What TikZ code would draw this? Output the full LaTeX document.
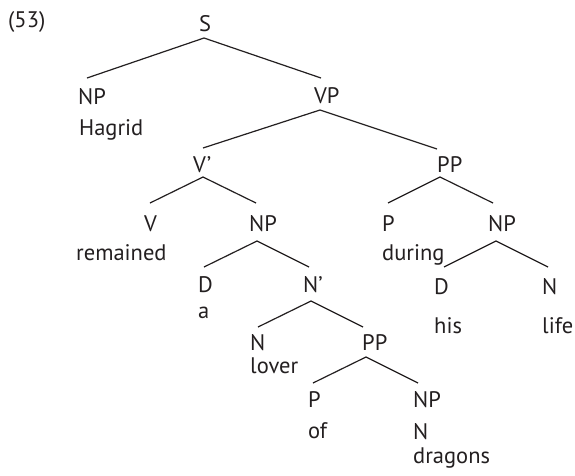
\documentclass[tikz,border=0pt]{standalone}
\usepackage{fontspec}
\setmainfont{PT Sans}
\definecolor{ink}{HTML}{231F20}
\begin{document}
\begin{tikzpicture}[x=1pt,y=-1pt,
  lbl/.style={anchor=base west,inner sep=0pt,text=ink,font=\fontsize{22.5}{26}\selectfont},
  edge/.style={draw=ink,line width=1.2pt}]
\useasboundingbox[fill=white] (0,0) rectangle (575,475);
% labels
\node[lbl] (ex) at (8,27) {(53)};
\node[lbl] (S) at (199,31) {S};
\node[lbl] (NPa) at (78,104) {NP};
\node[lbl] (hagrid) at (79,135) {Hagrid};
\node[lbl] (VP) at (314,103) {VP};
\node[lbl] (Vbar) at (193,172) {V’};
\node[lbl] (PPa) at (437,172) {PP};
\node[lbl] (V) at (144,231) {V};
\node[lbl] (remained) at (76,260) {remained};
\node[lbl] (NPb) at (249,231) {NP};
\node[lbl] (Pa) at (382,231) {P};
\node[lbl] (during) at (382,260) {during};
\node[lbl] (NPc) at (488,231) {NP};
\node[lbl] (Da) at (198,292) {D};
\node[lbl] (a) at (198,318) {a};
\node[lbl] (Nbar) at (303,292) {N’};
\node[lbl] (Db) at (434,294) {D};
\node[lbl] (his) at (434,333) {his};
\node[lbl] (Na) at (542,294) {N};
\node[lbl] (life) at (542,333) {life};
\node[lbl] (Nb) at (250,350) {N};
\node[lbl] (lover) at (250,373) {lover};
\node[lbl] (PPb) at (362,350) {PP};
\node[lbl] (Pb) at (308,407) {P};
\node[lbl] (of) at (308,438) {of};
\node[lbl] (NPd) at (413,407) {NP};
\node[lbl] (Nc) at (413,439) {N};
\node[lbl] (dragons) at (413,463) {dragons};
% attachment points
\coordinate (S-b) at (204,38);
\coordinate (NPa-t) at (87,78);
\coordinate (VP-t) at (321,78);
\coordinate (VP-b) at (320,110);
\coordinate (Vbar-t) at (203,148);
\coordinate (PPa-t) at (437,149);
\coordinate (Vbar-b) at (203,177);
\coordinate (V-t) at (150,203);
\coordinate (NPb-t) at (256,203);
\coordinate (PPa-b) at (440,177);
\coordinate (Pa-t) at (388,203);
\coordinate (NPc-t) at (493,203);
\coordinate (NPb-b) at (257,241);
\coordinate (Da-t) at (204,267);
\coordinate (Nbar-t) at (309,267);
\coordinate (NPc-b) at (496,241);
\coordinate (Db-t) at (444,267);
\coordinate (Na-t) at (548,267);
\coordinate (Nbar-b) at (311,301);
\coordinate (Nb-t) at (258,327);
\coordinate (PPb-t) at (363,327);
\coordinate (PPb-b) at (366,357);
\coordinate (Pb-t) at (313,383);
\coordinate (NPd-t) at (418,383);
% connectors
\path[edge] (NPa-t) -- (S-b) -- (VP-t);
\path[edge] (Vbar-t) -- (VP-b) -- (PPa-t);
\path[edge] (V-t) -- (Vbar-b) -- (NPb-t);
\path[edge] (Pa-t) -- (PPa-b) -- (NPc-t);
\path[edge] (Da-t) -- (NPb-b) -- (Nbar-t);
\path[edge] (Db-t) -- (NPc-b) -- (Na-t);
\path[edge] (Nb-t) -- (Nbar-b) -- (PPb-t);
\path[edge] (Pb-t) -- (PPb-b) -- (NPd-t);
\end{tikzpicture}
\end{document}
